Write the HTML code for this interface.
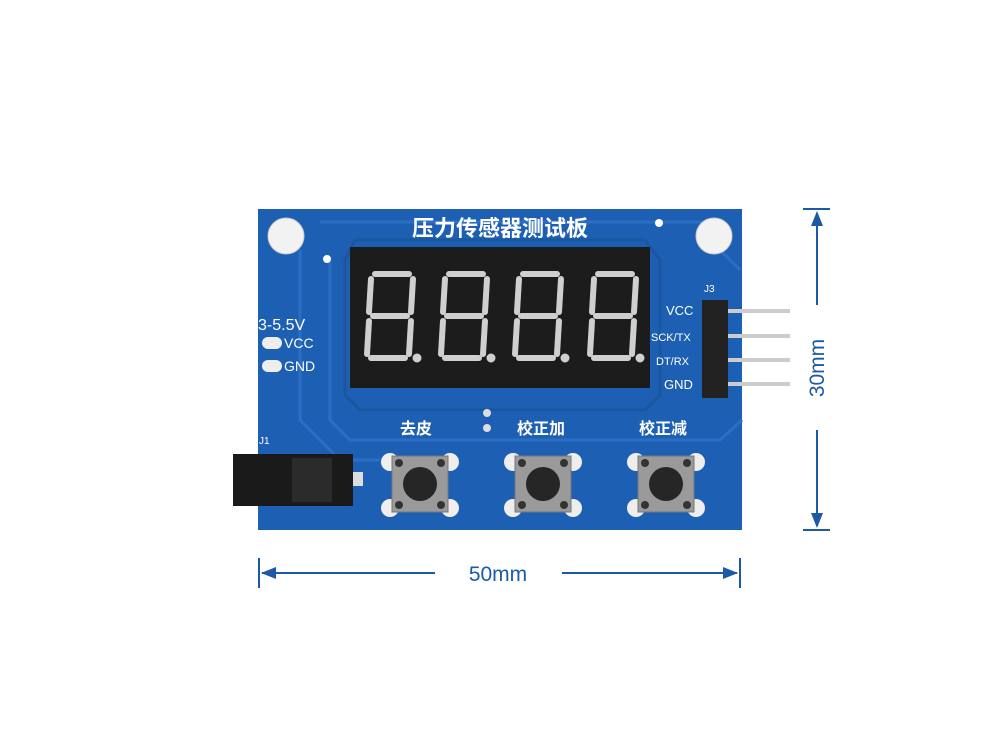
<!DOCTYPE html>
<html><head><meta charset="utf-8"><style>
body{margin:0;background:#fff;width:1000px;height:741px;overflow:hidden}
svg text{font-family:"Liberation Sans","Noto Sans CJK SC",sans-serif}
</style></head><body>
<svg width="1000" height="741" viewBox="0 0 1000 741">
<defs><g id="dig" stroke="#cfcfcf" stroke-width="6" stroke-linecap="round" fill="none">
<line x1="6" y1="0" x2="40" y2="0"/><line x1="2" y1="5" x2="0" y2="38"/><line x1="44" y1="5" x2="42" y2="38"/>
<line x1="4" y1="42" x2="38" y2="42"/><line x1="0" y1="47" x2="-2" y2="80"/><line x1="42" y1="47" x2="40" y2="80"/>
<line x1="2" y1="84" x2="36" y2="84"/><circle cx="48" cy="84" r="3" fill="#cfcfcf" stroke-width="3"/></g>
<g id="btn"><circle cx="-30" cy="-22" r="9" fill="#eee"/><circle cx="30" cy="-22" r="9" fill="#eee"/><circle cx="-30" cy="24" r="9" fill="#eee"/><circle cx="30" cy="24" r="9" fill="#eee"/>
<rect x="-28" y="-28" width="56" height="56" fill="#9a9a9a" stroke="#777"/><circle r="17" fill="#262626"/>
<circle cx="-21" cy="-21" r="4" fill="#333"/><circle cx="21" cy="-21" r="4" fill="#333"/><circle cx="-21" cy="21" r="4" fill="#333"/><circle cx="21" cy="21" r="4" fill="#333"/></g></defs>
<!-- board -->
<rect x="258" y="209" width="484" height="321" fill="#1d5fb3"/>
<path d="M320 222 H720 V250 L740 270 M300 250 V420 L340 460 H380 M330 260 V420 L350 440 H720 L742 420" stroke="#2a6fc4" stroke-width="3" fill="none"/>
<path d="M345 260 L355 240 H645 L660 260 V395 L645 410 H360 L345 395Z" stroke="#1b56a0" stroke-width="3" fill="none"/>
<circle cx="286" cy="236" r="18" fill="#f2f2f2" stroke="#ccc"/>
<circle cx="714" cy="236" r="18" fill="#f2f2f2" stroke="#ccc"/>
<circle cx="327" cy="259" r="4" fill="#fff"/><circle cx="659" cy="223" r="4" fill="#fff"/>
<text x="500" y="236" font-size="22" font-weight="bold" fill="#fff" text-anchor="middle">压力传感器测试板</text>
<!-- display -->
<rect x="350" y="247" width="300" height="141" fill="#1c1c1c"/>
<use href="#dig" x="369" y="274"/><use href="#dig" x="443" y="274"/><use href="#dig" x="517" y="274"/><use href="#dig" x="592" y="274"/>
<!-- left labels -->
<text x="258" y="330" font-size="16" fill="#fff">3-5.5V</text>
<rect x="262" y="337" width="20" height="12" rx="6" fill="#eee"/><text x="284" y="348" font-size="14" fill="#fff">VCC</text>
<rect x="262" y="360" width="20" height="12" rx="6" fill="#eee"/><text x="284" y="371" font-size="14" fill="#fff">GND</text>
<!-- right labels -->
<text x="666" y="315" font-size="13" fill="#fff">VCC</text>
<text x="651" y="341" font-size="11" fill="#fff">SCK/TX</text>
<text x="656" y="365" font-size="11" fill="#fff">DT/RX</text>
<text x="664" y="389" font-size="13" fill="#fff">GND</text>
<text x="704" y="292" font-size="10" fill="#fff">J3</text>
<rect x="702" y="300" width="26" height="98" fill="#222"/>
<g fill="#ccc"><rect x="728" y="309" width="62" height="4"/><rect x="728" y="334" width="62" height="4"/><rect x="728" y="358" width="62" height="4"/><rect x="728" y="382" width="62" height="4"/></g>
<!-- J1 -->
<text x="259" y="444" font-size="10" fill="#fff">J1</text>
<rect x="233" y="454" width="120" height="52" fill="#1a1a1a"/>
<rect x="292" y="458" width="40" height="44" fill="#2b2b2b"/>
<rect x="353" y="472" width="10" height="14" fill="#ddd"/>
<!-- button labels -->
<text x="416" y="434" font-size="16" font-weight="bold" fill="#fff" text-anchor="middle">去皮</text>
<text x="541" y="434" font-size="16" font-weight="bold" fill="#fff" text-anchor="middle">校正加</text>
<text x="663" y="434" font-size="16" font-weight="bold" fill="#fff" text-anchor="middle">校正减</text>
<circle cx="487" cy="413" r="4" fill="#ddd"/><circle cx="487" cy="428" r="4" fill="#ddd"/>
<use href="#btn" x="420" y="484"/><use href="#btn" x="543" y="484"/><use href="#btn" x="666" y="484"/>
<!-- dimensions -->
<g stroke="#1d5aa6" stroke-width="2" fill="#1d5aa6">
<line x1="803" y1="209" x2="830" y2="209"/><line x1="803" y1="530" x2="830" y2="530"/>
<line x1="817" y1="213" x2="817" y2="305"/><line x1="817" y1="430" x2="817" y2="526"/>
<polygon points="817,211 811,226 823,226" stroke="none"/><polygon points="817,528 811,513 823,513" stroke="none"/>
<line x1="259" y1="558" x2="259" y2="588"/><line x1="740" y1="558" x2="740" y2="588"/>
<line x1="262" y1="573" x2="435" y2="573"/><line x1="562" y1="573" x2="737" y2="573"/>
<polygon points="261,573 276,567 276,579" stroke="none"/><polygon points="738,573 723,567 723,579" stroke="none"/>
</g>
<text x="498" y="581" font-size="21" fill="#1d5aa6" text-anchor="middle">50mm</text>
<text x="0" y="0" font-size="21" fill="#1d5aa6" text-anchor="middle" transform="translate(824,368) rotate(-90)">30mm</text>
</svg>
</body></html>
